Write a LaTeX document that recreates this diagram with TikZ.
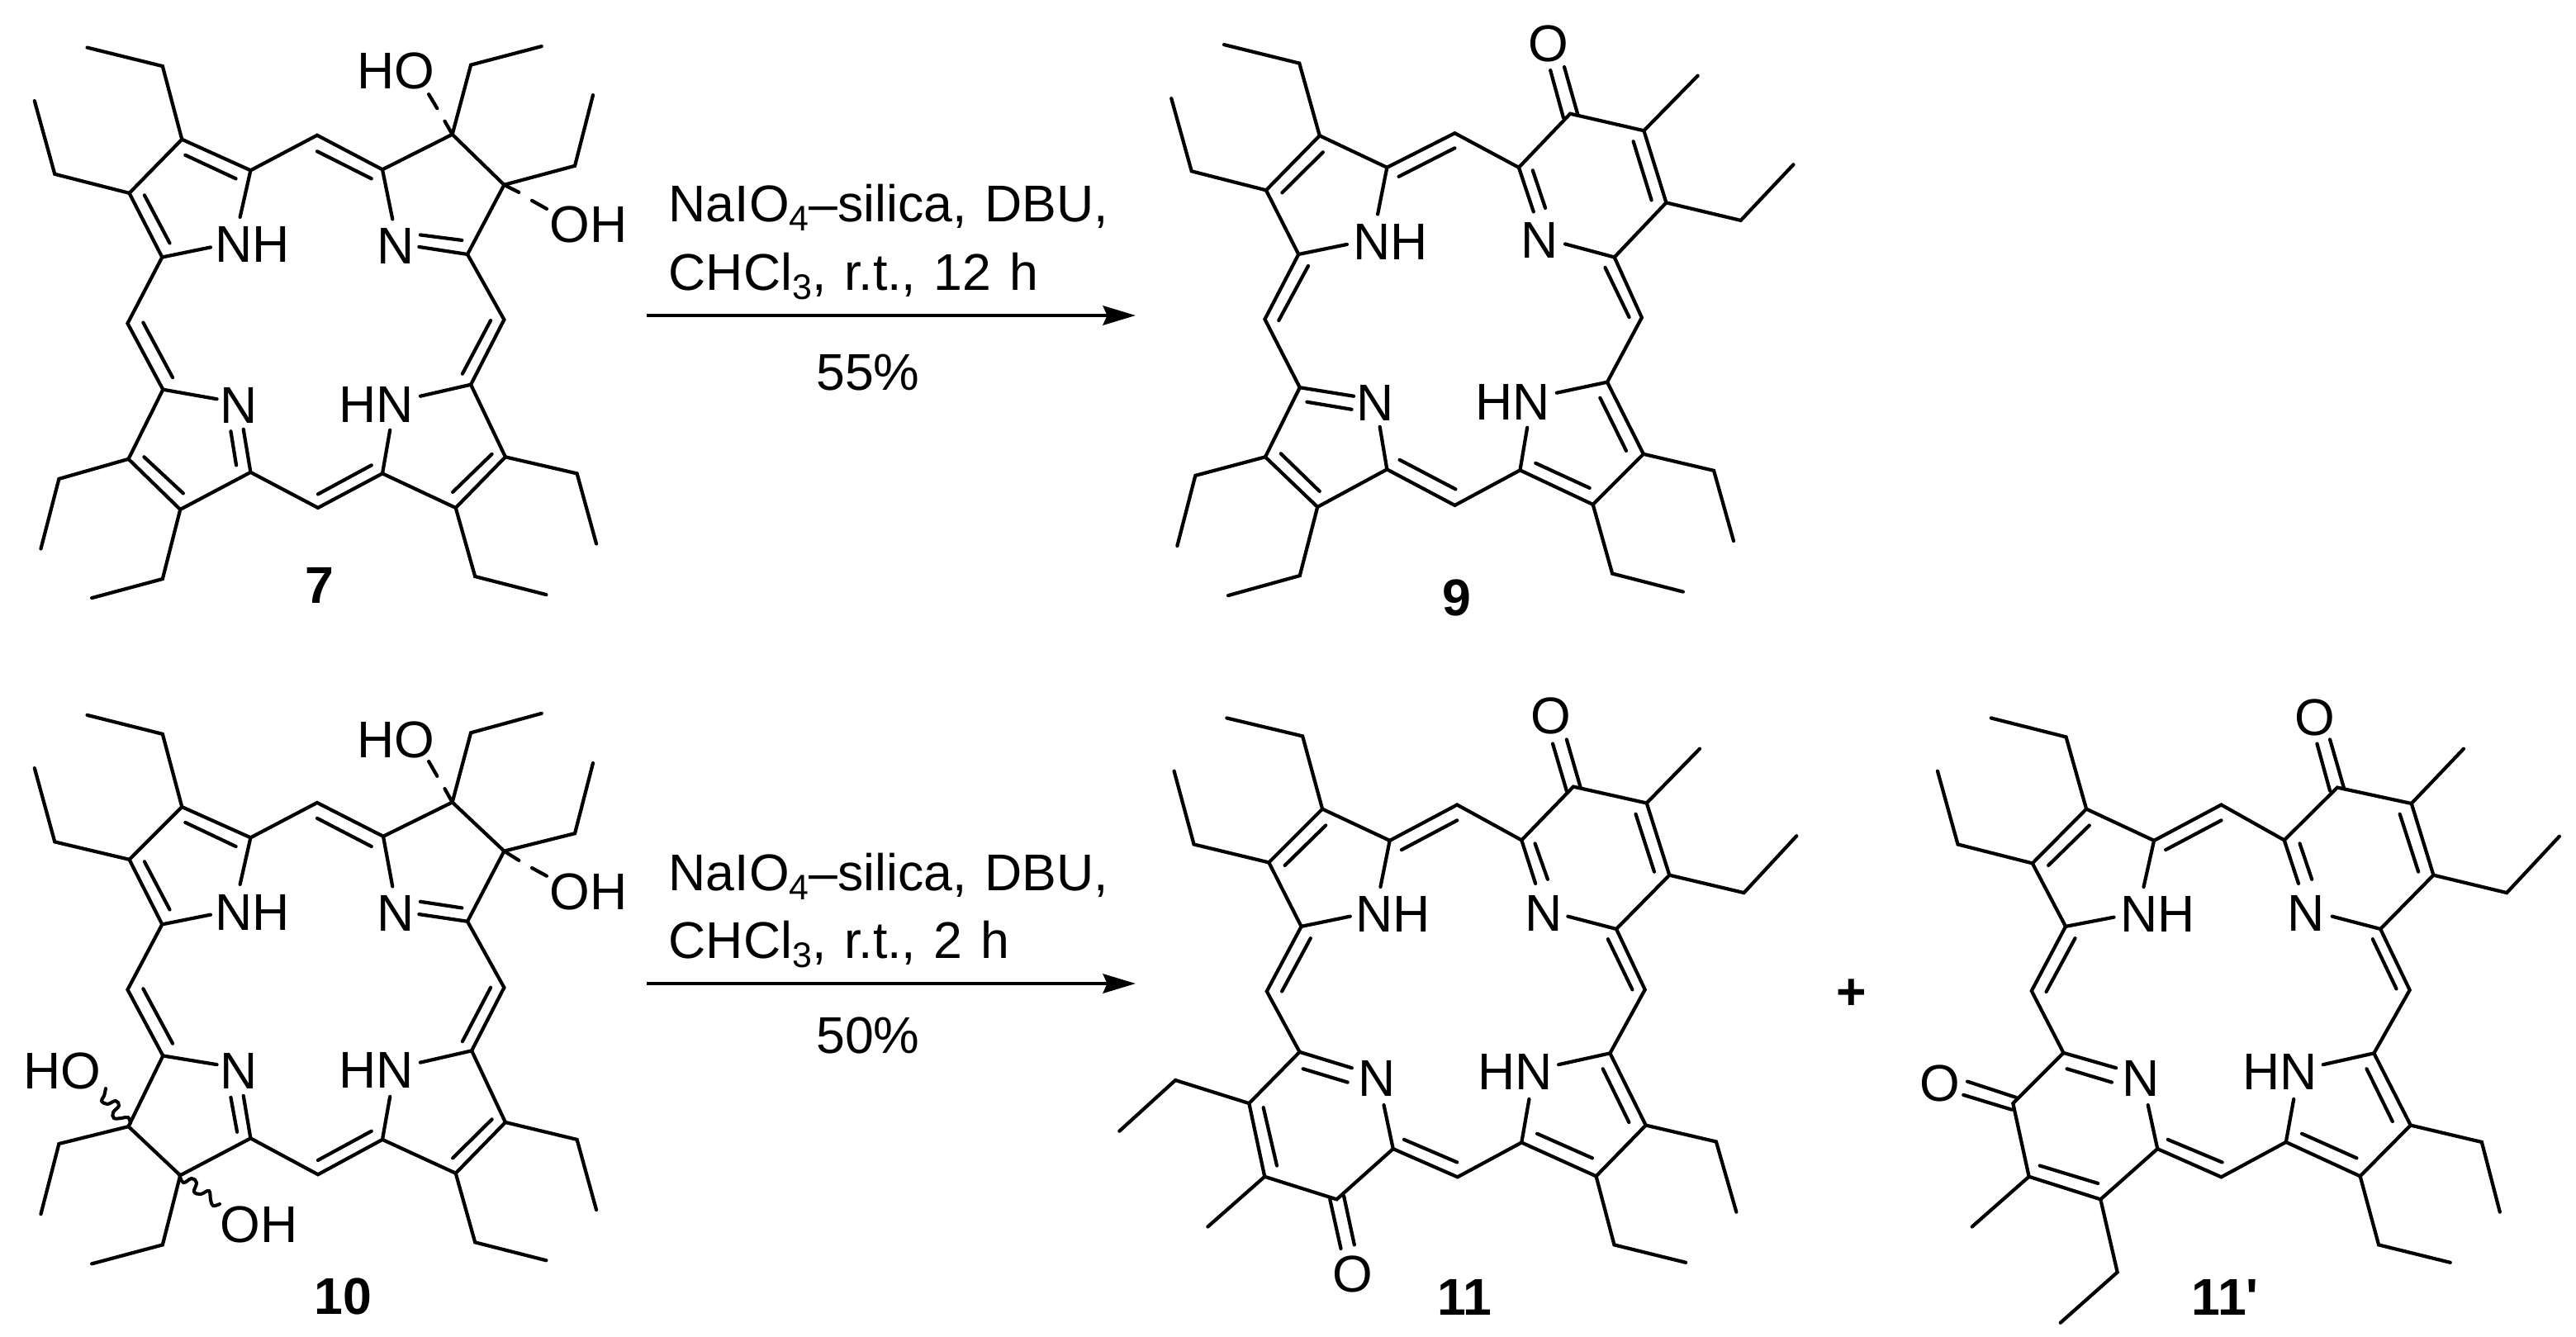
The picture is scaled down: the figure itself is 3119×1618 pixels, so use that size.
\documentclass[tikz,border=0pt]{standalone}
\usepackage{fontspec}
\setmainfont{Liberation Sans}[WordSpace=1.25]
\newfontfamily\rawsans{Liberation Sans}
\usetikzlibrary{arrows.meta}
\newcommand{\lowidx}[1]{\raisebox{-3.4pt}{\fontsize{12.2pt}{12.2pt}\selectfont #1}}
\tikzset{
  bond/.style={line width=1.2pt,line cap=round,line join=miter},
  wavy/.style={line width=1.15pt,line cap=round},
  atom/.style={inner sep=0pt,font=\fontsize{17.8pt}{17.8pt}\selectfont},
  cond/.style={inner sep=0pt,anchor=base west,font=\fontsize{17.8pt}{17.8pt}\selectfont},
  yield/.style={inner sep=0pt,anchor=base,font=\fontsize{17.8pt}{17.8pt}\selectfont},
  cpd/.style={inner sep=0pt,font=\fontsize{17.8pt}{17.8pt}\selectfont\rawsans\bfseries},
  rxn/.style={line width=1.35pt,-{Stealth[length=11.2pt,width=6.6pt,inset=1.4pt]}},
  mola/.style={x=0.0051020cm,y=-0.0050000cm},
  molc/.style={x=0.0051020cm,y=-0.0051020cm},
  molb/.style={x=0.0052232cm,y=-0.0051020cm}
}
\begin{document}
\begin{tikzpicture}[x=0.01cm,y=-0.01cm]
\useasboundingbox (0,0) rectangle (3119,1618);
% ---------- compound 7 ----------
\begin{scope}[mola]
\node[atom] (nA) at (600,592) {NH};
\node[atom] (nB) at (940,595) {N};
\node[atom] (nC) at (893,978) {HN};
\node[atom] (nD) at (567,980) {N};
\node[atom] (hoB) at (940,172) {HO};
\node[atom] (ohB) at (1398,543) {OH};
\node[cpd] (lab7) at (758,1415) {7};
\draw[bond] (207,115)--(386,160)--(432,337)--(307,467)--(130,421)--(82,244);
\draw[bond] (570,525)--(595,412)--(432,337);
\draw[bond] (307,467)--(385,622)--(500,598);
\draw[bond] (560,432)--(440,375) (343,472)--(403,588);
\draw[bond] (595,412)--(753,327)--(908,410)--(1074,325)--(1197,447)--(1110,615)--(1197,773)--(1118,930)--(1200,1105)--(1082,1228)--(908,1145)--(755,1228)--(595,1142)--(428,1232)--(305,1110)--(387,942)--(303,782)--(385,622);
\draw[bond] (753,366)--(882,432) (908,410)--(932,530) (1110,615)--(995,597) (1097,581)--(998,568);
\draw[bond] (1286,112)--(1118,157)--(1074,325) (1197,447)--(1365,401)--(1408,230);
\draw[bond] (1074,325)--(1056,293) (1038,262)--(1018,228) (1197,447)--(1232,465) (1263,485)--(1298,505);
\draw[bond] (1165,775)--(1098,904) (1118,930)--(998,958) (908,1145)--(926,1040);
\draw[bond] (1168,1098)--(1075,1190) (1200,1105)--(1370,1145)--(1416,1315) (1082,1228)--(1128,1394)--(1297,1438);
\draw[bond] (882,1125)--(755,1195) (595,1142)--(578,1038) (561,1125)--(548,1043) (387,942)--(515,965) (435,1193)--(342,1105);
\draw[bond] (305,1110)--(140,1158)--(97,1327) (428,1232)--(386,1400)--(218,1446) (410,913)--(340,780);
\end{scope}
% ---------- compound 9 ----------
\begin{scope}[shift={(1380,0)},mola]
\node[atom] (nA9) at (595,585) {NH};
\node[atom] (nB9) at (950,582) {N};
\node[atom] (nC9) at (886,972) {HN};
\node[atom] (nD9) at (560,975) {N};
\node[atom] (o9) at (970,105) {O};
\node[cpd] (lab9) at (752,1445) {9};
\draw[bond] (200,108)--(379,153)--(427,328)--(300,460)--(123,414)--(75,238);
\draw[bond] (565,518)--(587,405)--(427,328) (300,460)--(377,615)--(492,591);
\draw[bond] (435,368)--(338,466) (615,427)--(748,358) (400,643)--(330,775);
\draw[bond] (587,405)--(748,322)--(900,405)--(1022,275)--(1197,316)--(1250,490)--(1127,622)--(1192,768)--(1110,924)--(1196,1098)--(1076,1220)--(903,1137)--(748,1222)--(587,1135)--(422,1226)--(298,1105)--(380,937)--(297,772)--(377,615);
\draw[bond] (380,937)--(508,958) (397,972)--(503,990) (587,1135)--(570,1032) (427,1188)--(335,1097);
\draw[bond] (298,1105)--(132,1150)--(89,1320) (422,1226)--(380,1392)--(210,1440);
\draw[bond] (617,1112)--(750,1183) (1110,924)--(990,950) (903,1137)--(920,1034) (940,1120)--(1068,1180) (1093,962)--(1155,1090);
\draw[bond] (1196,1098)--(1363,1138)--(1410,1308) (1076,1220)--(1122,1387)--(1290,1431);
\draw[bond] (1105,647)--(1162,767) (900,405)--(935,512) (933,412)--(963,503);
\draw[bond] (1040,277)--(1008,162) (1006,285)--(975,170) (1172,342)--(1215,484) (1197,316)--(1325,183);
\draw[bond] (1250,490)--(1427,533)--(1552,398) (1127,622)--(1010,590);
\end{scope}
% ---------- compound 10 ----------
\begin{scope}[shift={(0,820)},molc]
\node[atom] (nA10) at (600,558) {NH};
\node[atom] (nB10) at (940,560) {N};
\node[atom] (nC10) at (893,933) {HN};
\node[atom] (nD10) at (567,935) {N};
\node[atom] (hoB10) at (940,148) {HO};
\node[atom] (ohB10) at (1398,510) {OH};
\node[atom] (hoD10) at (147,935) {HO};
\node[atom] (ohD10) at (615,1300) {OH};
\node[cpd] (lab10) at (815,1470) {10};
\draw[bond] (207,90)--(386,135)--(432,308)--(307,433)--(130,391)--(82,216);
\draw[bond] (570,492)--(595,381)--(432,308) (307,433)--(385,587)--(500,564);
\draw[bond] (560,402)--(440,345) (343,438)--(403,552);
\draw[bond] (595,381)--(753,298)--(910,378)--(1074,297)--(1197,413)--(1110,580)--(1197,737)--(1120,887)--(1200,1057)--(1082,1178)--(908,1098)--(755,1181)--(595,1095)--(428,1183)--(305,1067)--(387,899)--(303,742)--(385,587);
\draw[bond] (753,335)--(882,402) (910,378)--(932,497) (1110,580)--(995,563) (1097,548)--(998,533);
\draw[bond] (1286,86)--(1118,132)--(1074,297) (1197,413)--(1365,371)--(1408,204);
\draw[bond] (1074,297)--(1056,265) (1038,235)--(1018,200) (1197,413)--(1232,435) (1263,453)--(1298,472);
\draw[bond] (1165,737)--(1098,865) (1120,887)--(998,915) (908,1098)--(926,996);
\draw[bond] (1168,1050)--(1075,1142) (1200,1057)--(1370,1098)--(1416,1265) (1082,1178)--(1128,1342)--(1297,1385);
\draw[bond] (882,1078)--(755,1147) (595,1095)--(578,994) (563,1080)--(548,998) (387,899)--(515,920);
\draw[bond] (305,1067)--(140,1108)--(97,1275) (428,1183)--(386,1348)--(218,1393) (410,870)--(340,740);
\end{scope}
% wavy bonds of compound 10
\draw[wavy] plot[smooth,tension=0.65] coordinates {(158,1360) (155,1353) (147,1354) (138,1354) (137,1347) (144,1339) (140,1333) (130,1337) (123,1333) (126,1327) (128,1318)};
\draw[wavy] plot[smooth,tension=0.65] coordinates {(217,1422) (222,1432) (232,1427) (238,1432) (235,1443) (243,1446) (253,1442) (255,1453) (258,1460) (266,1458)};
% ---------- compound 11 ----------
\begin{scope}[shift={(1340,820)},molc]
\node[atom] (nA11) at (680,563) {NH};
\node[atom] (nB11) at (1037,560) {N};
\node[atom] (nC11) at (970,938) {HN};
\node[atom] (nD11) at (642,952) {N};
\node[atom] (o11a) at (1055,93) {O};
\node[atom] (o11b) at (585,1417) {O};
\node[cpd] (lab11) at (850,1472) {11};
\draw[bond] (285,97)--(465,140)--(512,313)--(385,440)--(207,397)--(160,223);
\draw[bond] (650,498)--(672,388)--(512,313) (385,440)--(462,592)--(578,568);
\draw[bond] (520,352)--(423,447) (700,410)--(832,340) (484,620)--(416,746);
\draw[bond] (672,388)--(832,303)--(985,387)--(1108,260)--(1282,299)--(1336,470)--(1210,598)--(1278,742)--(1195,893)--(1280,1064)--(1162,1185)--(985,1105)--(833,1187)--(680,1120)--(546,1240)--(375,1186)--(338,1012)--(458,890)--(380,746)--(462,592);
\draw[bond] (458,890)--(582,928) (466,930)--(572,962) (372,1022)--(404,1160);
\draw[bond] (530,1240)--(556,1357) (563,1232)--(588,1348) (375,1186)--(240,1305) (338,1012)--(163,957)--(30,1078);
\draw[bond] (680,1120)--(658,1016) (706,1098)--(832,1152);
\draw[bond] (1195,893)--(1073,920) (985,1105)--(1003,1002) (1022,1084)--(1153,1142) (1178,930)--(1240,1057);
\draw[bond] (1280,1064)--(1447,1103)--(1495,1270) (1162,1185)--(1205,1348)--(1375,1390);
\draw[bond] (1190,622)--(1248,742) (985,387)--(1018,490) (1017,395)--(1047,480);
\draw[bond] (1125,262)--(1092,148) (1092,270)--(1059,158) (1256,325)--(1300,462) (1282,299)--(1408,170);
\draw[bond] (1336,470)--(1513,512)--(1638,377) (1210,598)--(1095,568);
\end{scope}
% ---------- compound 11' ----------
\begin{scope}[shift={(2300,820)},molb]
\node[atom] (nA12) at (598,563) {NH};
\node[atom] (nB12) at (943,560) {N};
\node[atom] (nC12) at (882,938) {HN};
\node[atom] (nD12) at (560,952) {N};
\node[atom] (o12a) at (963,95) {O};
\node[atom] (o12b) at (93,965) {O};
\node[cpd] (lab12) at (755,1472) {11'};
\draw[bond] (212,97)--(386,142)--(433,313)--(308,442)--(135,397)--(88,223);
\draw[bond] (566,498)--(590,388)--(433,313) (308,442)--(385,592)--(497,570);
\draw[bond] (440,352)--(345,447) (617,410)--(746,340) (407,620)--(340,747);
\draw[bond] (590,388)--(746,303)--(892,387)--(1015,262)--(1187,300)--(1238,470)--(1115,598)--(1183,743)--(1100,893)--(1185,1064)--(1068,1185)--(896,1104)--(746,1187)--(598,1120)--(466,1240)--(300,1186)--(263,1012)--(380,892)--(306,745)--(385,592);
\draw[bond] (380,892)--(502,928) (388,930)--(492,962);
\draw[bond] (270,998)--(157,960) (260,1027)--(148,992);
\draw[bond] (325,1160)--(460,1202) (300,1186)--(168,1305) (466,1240)--(505,1413)--(373,1533);
\draw[bond] (598,1120)--(576,1016) (622,1098)--(748,1152);
\draw[bond] (1100,893)--(982,920) (896,1104)--(914,1002) (933,1084)--(1060,1142) (1083,930)--(1143,1055);
\draw[bond] (1185,1064)--(1350,1104)--(1392,1270) (1068,1185)--(1111,1348)--(1277,1390);
\draw[bond] (1097,622)--(1152,740) (892,387)--(925,490) (928,395)--(956,480);
\draw[bond] (1030,262)--(998,148) (998,270)--(968,158) (1160,325)--(1203,462) (1187,300)--(1308,170);
\draw[bond] (1238,470)--(1408,512)--(1530,378) (1115,598)--(1003,568);
\end{scope}
% ---------- reactions ----------
\coordinate (r1s) at (783,382);
\coordinate (r1e) at (1375,382);
\coordinate (r2s) at (783,1191);
\coordinate (r2e) at (1375,1191);
\draw[rxn] (r1s)--(r1e);
\draw[rxn] (r2s)--(r2e);
\node[cond] (c1a) at (809,268) {NaIO\lowidx{4}–silica, DBU,};
\node[cond] (c1b) at (809,351) {CHCl\lowidx{3}, r.t., 12 h};
\node[yield] (y1) at (1051,472) {55\%};
\node[cond] (c2a) at (809,1078) {NaIO\lowidx{4}–silica, DBU,};
\node[cond] (c2b) at (809,1160) {CHCl\lowidx{3}, r.t., 2 h};
\node[yield] (y2) at (1051,1275) {50\%};
\node[cpd] (plus) at (2242,1204) {+};
\end{tikzpicture}
\end{document}
